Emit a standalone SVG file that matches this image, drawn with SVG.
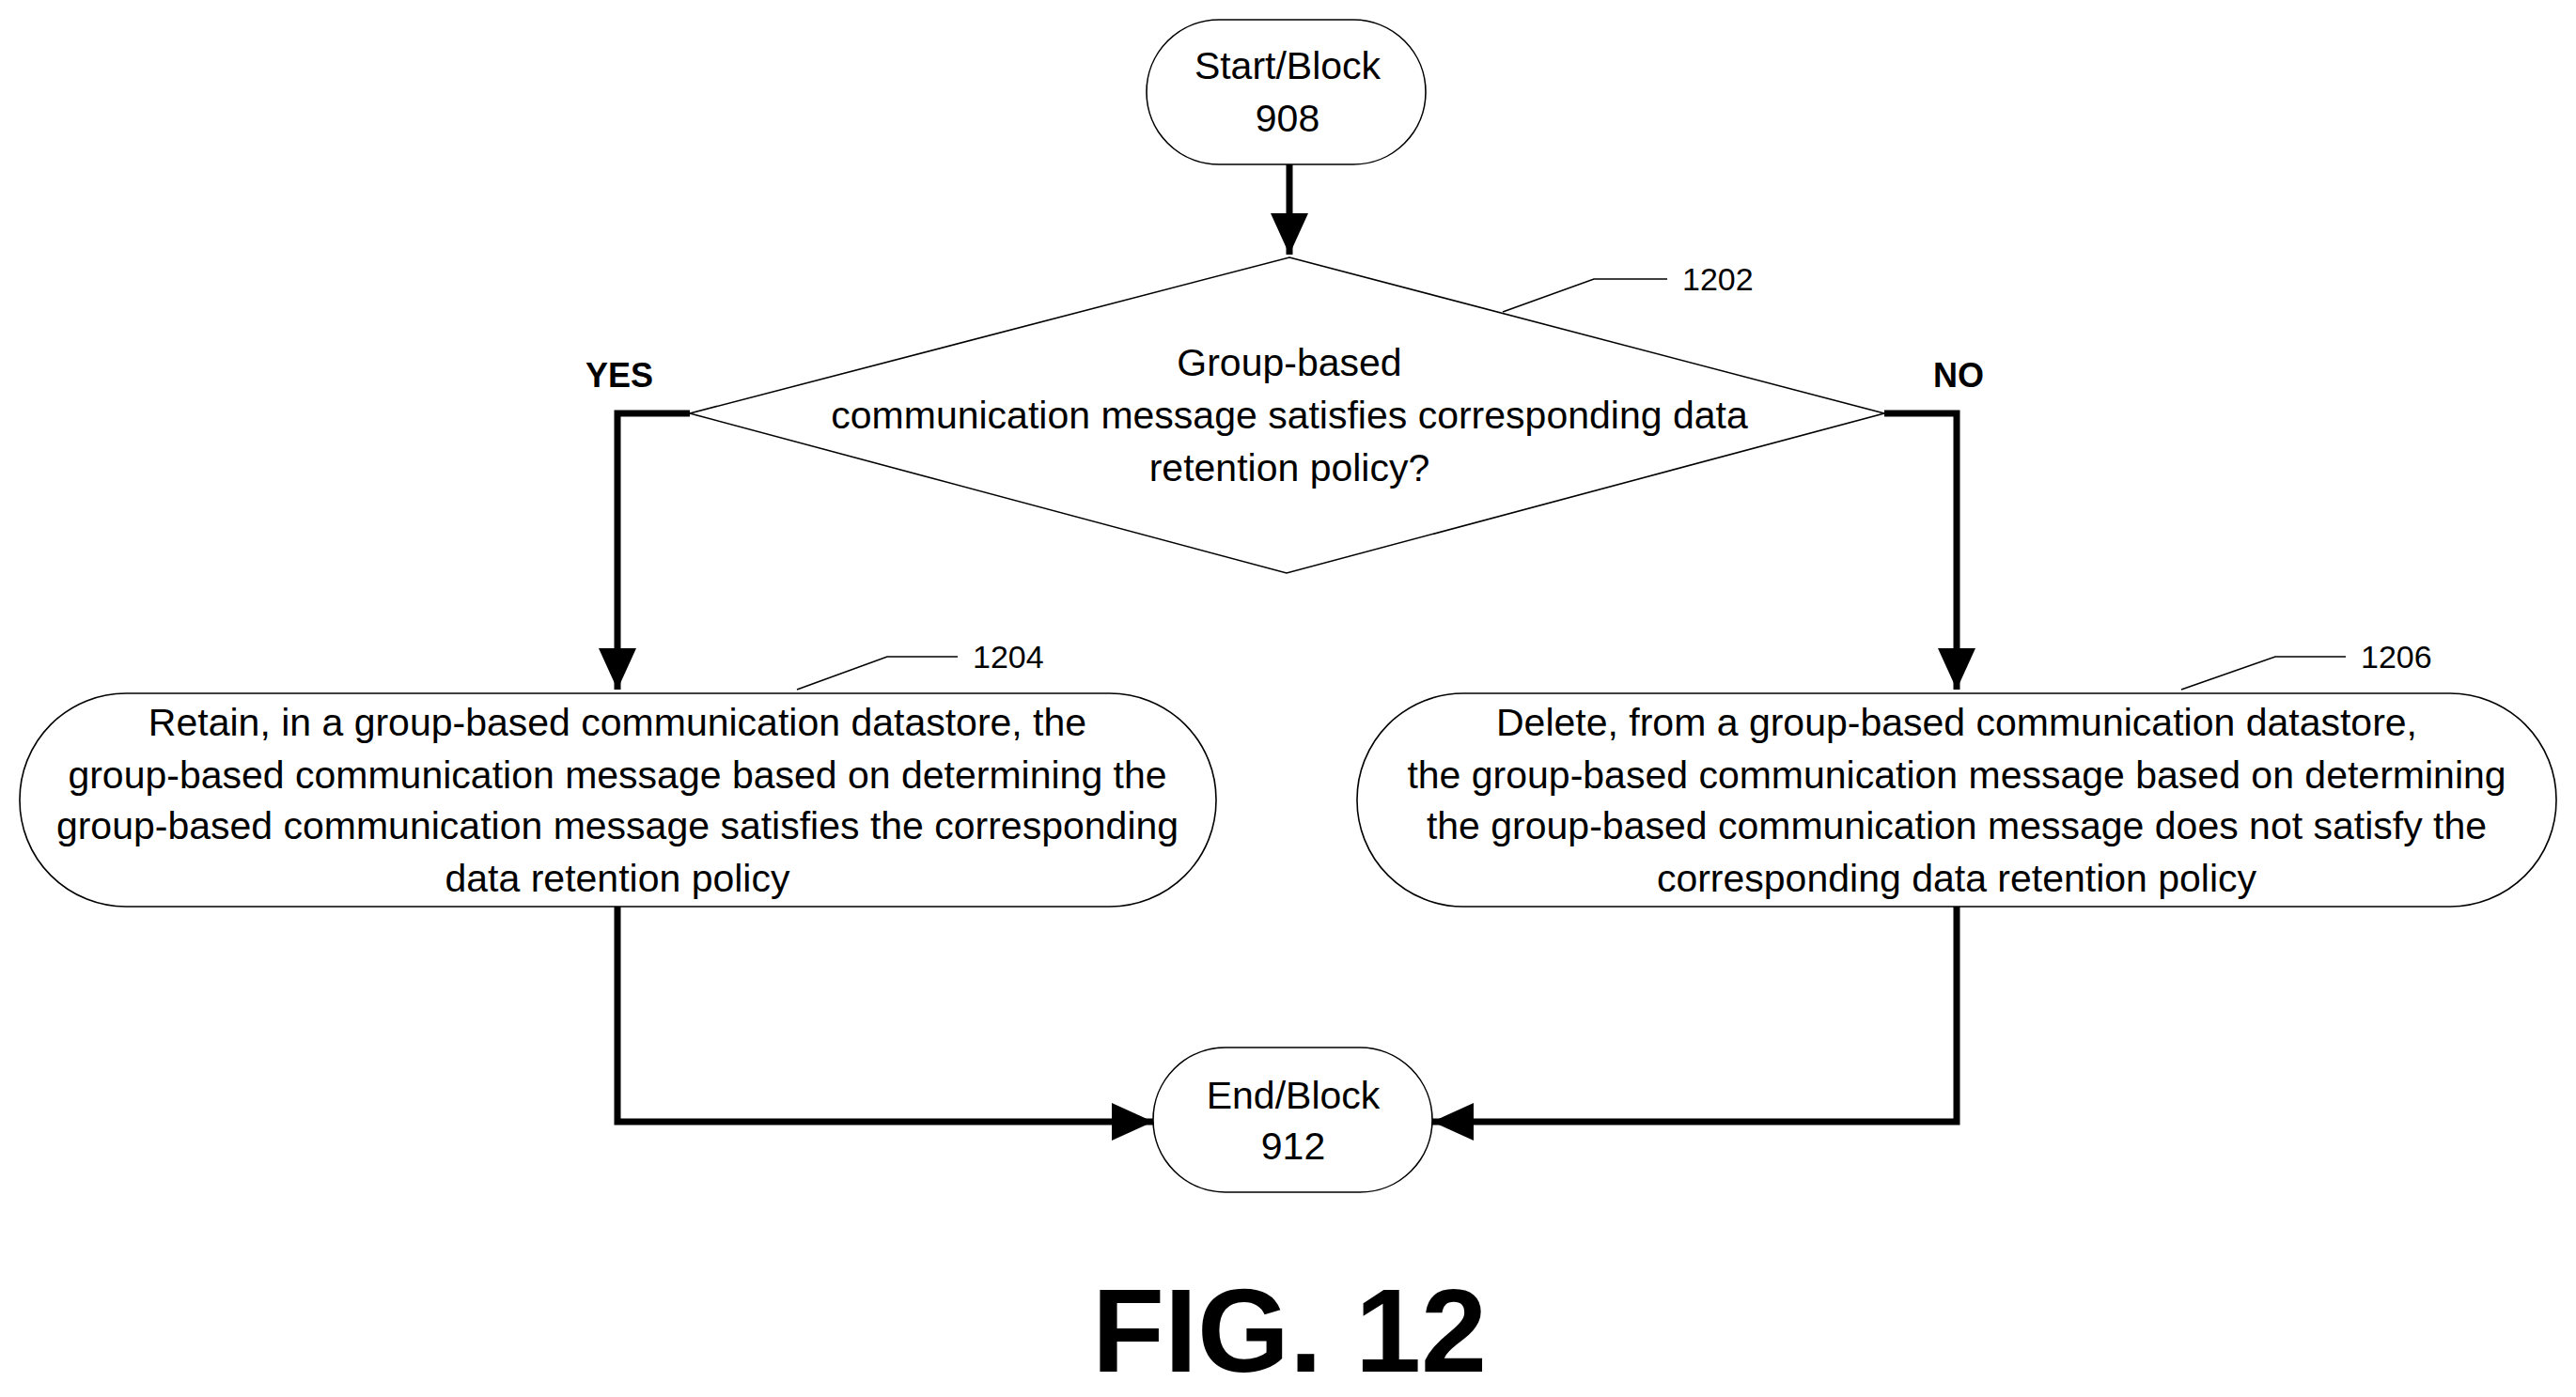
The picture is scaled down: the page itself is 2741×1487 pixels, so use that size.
<svg xmlns="http://www.w3.org/2000/svg" width="2741" height="1487" viewBox="0 0 2741 1487">
<style>
.n{fill:#fff;stroke:#000;stroke-width:1.6}
.t{font-family:"Liberation Sans",Arial,sans-serif;font-size:41px;text-anchor:middle;fill:#000}
.l{font-family:"Liberation Sans",Arial,sans-serif;font-size:34px;fill:#000}
.c{fill:none;stroke:#000;stroke-width:7}
.ld{fill:none;stroke:#000;stroke-width:1.6}
.b{font-family:"Liberation Sans",Arial,sans-serif;font-size:36px;font-weight:bold;text-anchor:middle}
</style>
<defs><marker id="a" markerUnits="userSpaceOnUse" markerWidth="44" markerHeight="40" refX="44" refY="20" orient="auto"><path d="M0,0L44,20L0,40Z" fill="#000"/></marker></defs>
<rect width="2741" height="1487" fill="#fff"/>
<g id="connectors">
<path class="c" d="M1372,175V271" marker-end="url(#a)"/>
<path class="c" d="M734,440H657V734" marker-end="url(#a)"/>
<path class="c" d="M2005,440H2082V734" marker-end="url(#a)"/>
<path class="c" d="M657,965V1194H1227" marker-end="url(#a)"/>
<path class="c" d="M2082,965V1194H1524" marker-end="url(#a)"/>
<text class="b" x="659" y="412">YES</text>
<text class="b" x="2084" y="412">NO</text>
</g>
<g id="start"><rect class="n" x="1220" y="21" width="297" height="154" rx="77"/>
<text class="t" x="1370" y="84">Start/Block</text><text class="t" x="1370" y="140">908</text></g>
<g id="n1202"><path class="n" d="M1372,274L2005,440L1369,610L734,440Z"/>
<text class="t" x="1372" y="400">Group-based</text>
<text class="t" x="1372" y="456">communication message satisfies corresponding data</text>
<text class="t" x="1372" y="512">retention policy?</text>
<path class="ld" d="M1599,332L1696,297H1774"/><text class="l" x="1790" y="309">1202</text></g>
<g id="n1204"><rect class="n" x="21" y="738" width="1273" height="227" rx="113"/>
<text class="t" x="657" y="783">Retain, in a group-based communication datastore, the</text>
<text class="t" x="657" y="839">group-based communication message based on determining the</text>
<text class="t" x="657" y="893">group-based communication message satisfies the corresponding</text>
<text class="t" x="657" y="949">data retention policy</text>
<path class="ld" d="M848,734L944,699H1019"/><text class="l" x="1035" y="711">1204</text></g>
<g id="n1206"><rect class="n" x="1444" y="738" width="1276" height="227" rx="113"/>
<text class="t" x="2082" y="783">Delete, from a group-based communication datastore,</text>
<text class="t" x="2082" y="839">the group-based communication message based on determining</text>
<text class="t" x="2082" y="893">the group-based communication message does not satisfy the</text>
<text class="t" x="2082" y="949">corresponding data retention policy</text>
<path class="ld" d="M2321,734L2421,699H2496"/><text class="l" x="2512" y="711">1206</text></g>
<g id="end"><rect class="n" x="1227" y="1115" width="297" height="154" rx="77"/>
<text class="t" x="1376" y="1180">End/Block</text><text class="t" x="1376" y="1234">912</text></g>
<text x="1372" y="1460" font-family="Liberation Sans,Arial,sans-serif" font-size="126" font-weight="bold" text-anchor="middle">FIG. 12</text>
</svg>
